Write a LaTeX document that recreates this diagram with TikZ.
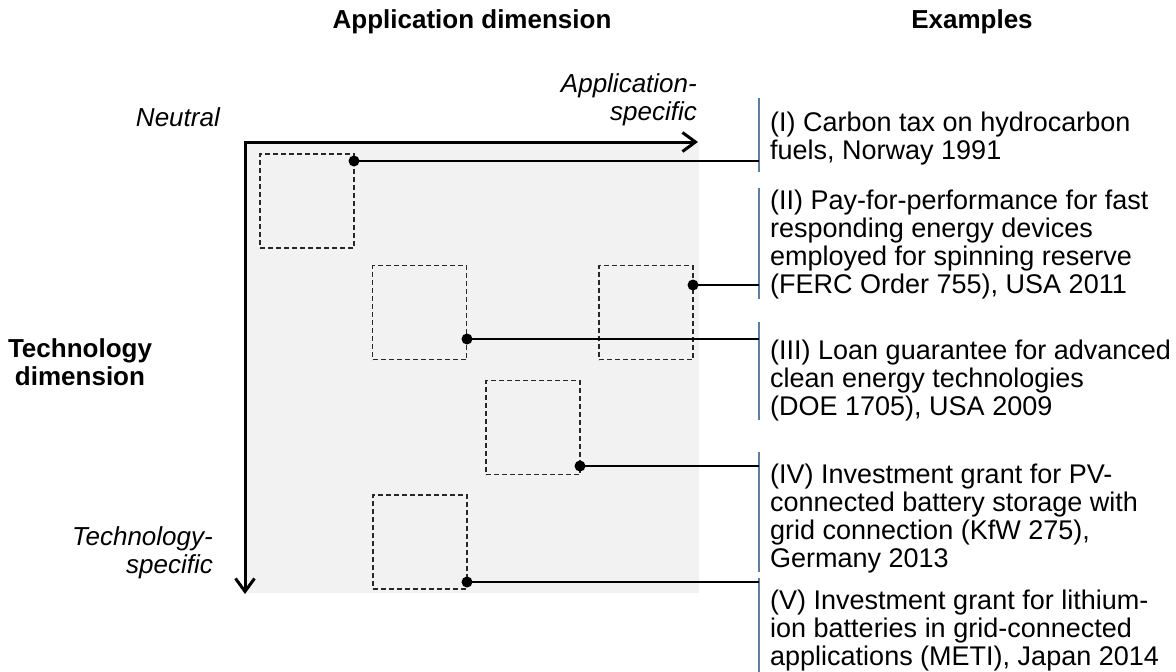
\documentclass[tikz,border=0pt]{standalone}
\usepackage{fontspec}
\setmainfont{Liberation Sans}
\usetikzlibrary{arrows.meta}
\definecolor{bggray}{RGB}{242,242,242}
\definecolor{barblue}{RGB}{96,124,158}
\definecolor{dashgray}{RGB}{40,40,40}

\begin{document}
\begin{tikzpicture}[x=1pt, y=-1pt,
    every node/.style={font=\fontsize{26}{28}\selectfont, inner sep=0pt},
    axis/.style={line width=3pt, line join=miter,
        {Straight Barb[length=13pt, width=19pt]}-{Straight Barb[length=13pt, width=19pt]}},
    policy_box/.style={draw=dashgray, line width=1.6pt, dash pattern=on 5pt off 3pt, minimum size=94pt},
    marker/.style={circle, fill=black, minimum size=11pt},
    link/.style={line width=1.3pt, black},
    bar/.style={line width=1.6pt, barblue},
    example/.style={anchor=north west, align=left, font=\fontsize{27}{28}\selectfont}]
    \useasboundingbox (0,0) rectangle (1176,672);

    % Headers
    \node[font=\fontsize{26}{28}\selectfont\bfseries] (head_app) at (472, 22) {Application dimension};
    \node[font=\fontsize{26}{28}\selectfont\bfseries] (head_ex) at (972, 22) {Examples};

    % Matrix area
    \fill[bggray] (245,142) rectangle (699,593);
    \coordinate (corner) at (245,142);
    \coordinate (app_end) at (698,142);
    \coordinate (tech_end) at (245,594);
    \draw[axis] (app_end) -- (corner) -- (tech_end);

    % Axis labels
    \node[font=\fontsize{26}{28}\selectfont\itshape, anchor=east] (lbl_neutral) at (220, 117) {Neutral};
    \node[font=\fontsize{26}{28}\selectfont\itshape, anchor=south east, align=right] (lbl_app) at (697, 126) {Application-\\specific};
    \node[font=\fontsize{26}{28}\selectfont\bfseries, align=center] (lbl_tech) at (80, 362) {Technology\\dimension};
    \node[font=\fontsize{26}{28}\selectfont\itshape, anchor=east, align=right] (lbl_techspec) at (213, 553) {Technology-\\specific};

    % Policy boxes
    \node[policy_box] (box_one) at (307, 201) {};
    \node[policy_box] (box_two) at (419.5, 312.5) {};
    \node[policy_box] (box_three) at (646, 312.5) {};
    \node[policy_box] (box_four) at (533, 427.5) {};
    \node[policy_box] (box_five) at (420, 542) {};

    % Markers
    \node[marker] (dot_one) at (354, 161) {};
    \node[marker] (dot_two) at (693, 285) {};
    \node[marker] (dot_three) at (467, 339) {};
    \node[marker] (dot_four) at (580, 466) {};
    \node[marker] (dot_five) at (467, 582) {};

    % Example bars
    \draw[bar] (759,98) -- (759,172);
    \draw[bar] (759,188) -- (759,299);
    \draw[bar] (759,322) -- (759,420);
    \draw[bar] (759,452) -- (759,572);
    \draw[bar] (759,578) -- (759,672);

    % Examples
    \node[example] (ex_one) at (770, 112) {(I) Carbon tax on hydrocarbon\\fuels, Norway 1991};
    \node[example] (ex_two) at (770, 190) {(II) Pay-for-performance for fast\\responding energy devices\\employed for spinning reserve\\(FERC Order 755), USA 2011};
    \node[example] (ex_three) at (770, 340) {(III) Loan guarantee for advanced\\clean energy technologies\\(DOE 1705), USA 2009};
    \node[example] (ex_four) at (770, 464) {(IV) Investment grant for PV-\\connected battery storage with\\grid connection (KfW 275),\\Germany 2013};
    \node[example] (ex_five) at (770, 590) {(V) Investment grant for lithium-\\ion batteries in grid-connected\\applications (METI), Japan 2014};

    % Connections
    \coordinate (bar_one) at (759, 161);
    \coordinate (bar_two) at (759, 285);
    \coordinate (bar_three) at (759, 339);
    \coordinate (bar_four) at (759, 466);
    \coordinate (bar_five) at (759, 582);
    \draw[link] (dot_one.center) -- (bar_one);
    \draw[link] (dot_two.center) -- (bar_two);
    \draw[link] (dot_three.center) -- (bar_three);
    \draw[link] (dot_four.center) -- (bar_four);
    \draw[link] (dot_five.center) -- (bar_five);
\end{tikzpicture}
\end{document}
